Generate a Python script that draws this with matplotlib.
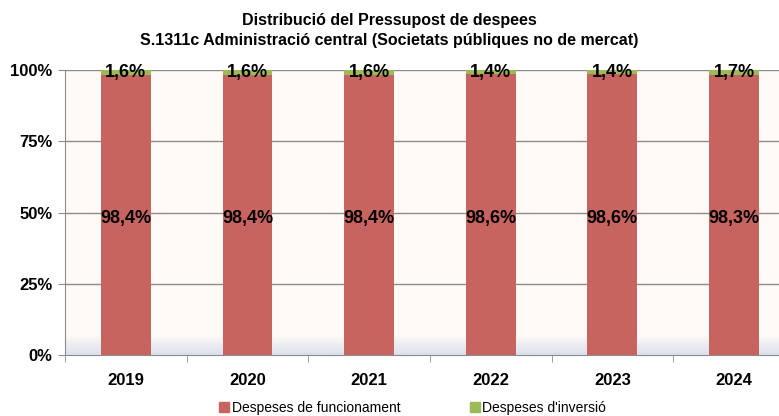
import numpy as np
import matplotlib.pyplot as plt
from matplotlib.patches import Patch

# Data
years = ['2019', '2020', '2021', '2022', '2023', '2024']
funcionament = [98.4, 98.4, 98.4, 98.6, 98.6, 98.3]
inversio = [1.6, 1.6, 1.6, 1.4, 1.4, 1.7]

red = '#C8645F'
green = '#9BBB59'
font = ['Liberation Sans Narrow', 'Liberation Sans', 'DejaVu Sans']
plt.rcParams['font.family'] = font

fig = plt.figure(figsize=(7.79, 4.16), dpi=100)
ax = fig.add_axes([0.0834, 0.1466, 0.937, 0.685])

x = np.arange(len(years))
ax.set_xlim(-0.5, len(years) - 0.5)
ax.set_ylim(0, 100)

# background: cream with a light blue-grey fade at the bottom
grad = np.linspace(0, 1, 200)[:, None]
c_top = np.array([1.0, 0.984, 0.965])
c_bot = np.array([0.86, 0.88, 0.93])
w = np.clip((grad - 0.93) / 0.07, 0, 1)
img = c_top * (1 - w[..., None]) + c_bot * w[..., None]
ax.imshow(img, extent=(-0.5, len(years) - 0.5, 0, 100), aspect='auto', zorder=0)

for yv in [25, 50, 75, 100]:
    ax.axhline(yv, color='#8c8c8c', linewidth=1, zorder=1)

ax.bar(x, funcionament, width=0.41, color=red, zorder=2)
ax.bar(x, inversio, width=0.41, bottom=funcionament, color=green, zorder=2)

for i in range(len(years)):
    ax.text(x[i], 48, f'{funcionament[i]:.1f}%'.replace('.', ','), ha='center', va='center',
            fontsize=13, fontweight='bold', zorder=3)
    ax.text(x[i], 99.2, f'{inversio[i]:.1f}%'.replace('.', ','), ha='center', va='center',
            fontsize=13, fontweight='bold', zorder=3)

ax.set_yticks([0, 25, 50, 75, 100])
ax.set_yticklabels(['0%', '25%', '50%', '75%', '100%'], fontsize=12, fontweight='bold')
ax.set_xticks(x)
ax.set_xticklabels(years, fontsize=12, fontweight='bold')
ax.tick_params(axis='x', length=0, pad=13)
ax.set_xticks(np.arange(-0.5, len(years)), minor=True)
ax.tick_params(axis='x', which='minor', length=5, color='#8c8c8c')
ax.tick_params(axis='y', length=5, color='#8c8c8c', pad=4)

for s in ['top', 'right']:
    ax.spines[s].set_visible(False)
ax.spines['left'].set_color('#8c8c8c')
ax.spines['bottom'].set_color('#8c8c8c')

fig.text(0.5, 0.95, 'Distribució del Pressupost de despees', ha='center', va='center',
         fontsize=11.5, fontweight='bold')
fig.text(0.5, 0.903, 'S.1311c Administració central (Societats públiques no de mercat)',
         ha='center', va='center', fontsize=11.5, fontweight='bold')

handles = [Patch(color=red, label='Despeses de funcionament'),
           Patch(color=green, label="Despeses d'inversió")]
fig.legend(handles=handles, loc='center', bbox_to_anchor=(0.53, 0.02), ncol=2, frameon=False,
           fontsize=10, handlelength=0.7, handleheight=0.7, handletextpad=0.2, columnspacing=5)

fig.savefig('out.png', dpi=100)
